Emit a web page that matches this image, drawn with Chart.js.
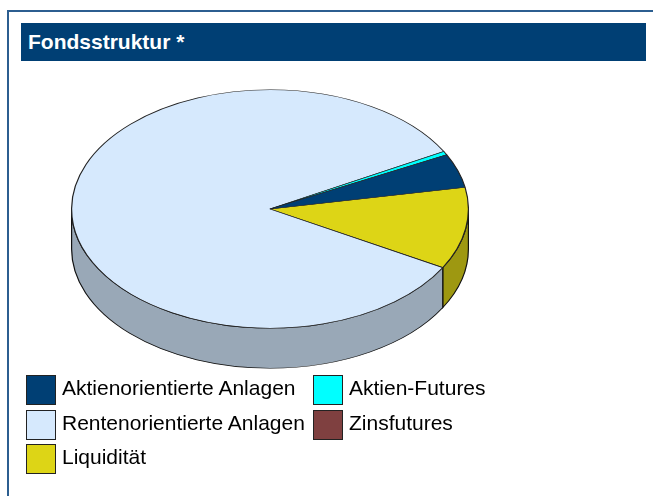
<!DOCTYPE html>
<html>
<head>
<meta charset="utf-8">
<script src="https://cdn.jsdelivr.net/npm/chart.js@4"></script>
<style>
  body { margin: 0; width: 653px; height: 496px; background: #fff; overflow: hidden; position: relative; font-family: "Liberation Sans", Arial, sans-serif; }
  .frame { position: absolute; left: 7px; top: 10px; width: 700px; height: 600px; border-top: 2px solid #2c5e90; border-left: 2px solid #2c5e90; }
  .title { position: absolute; left: 21px; top: 23px; width: 625px; height: 38px; background: #003f74; color: #fff; font-weight: bold; font-size: 21px; line-height: 38px; padding-left: 7px; box-sizing: border-box; }
  #chart-box { position: absolute; left: 71px; top: 10px; width: 398px; height: 398px; }
  #legend { position: absolute; left: 26px; top: 375px; display: grid; grid-template-columns: 287px auto; grid-auto-rows: 30px; row-gap: 4.5px; }
  #legend .item { display: flex; align-items: center; font-size: 21px; color: #000; white-space: nowrap; }
  #legend .item span:last-child { position: relative; top: -2px; }
  #legend .swatch { width: 30px; height: 30px; border: 1.5px solid #222; box-sizing: border-box; margin-right: 6px; }
</style>
</head>
<body>
<div class="frame"></div>
<div class="title">Fondsstruktur *</div>
<div id="chart-box"><canvas id="pie"></canvas></div>
<div id="legend"></div>
<script>
// Fondsstruktur in % (legend order)
const labels = ['Aktienorientierte Anlagen', 'Aktien-Futures', 'Rentenorientierte Anlagen', 'Zinsfutures', 'Liquidität'];
const values = [4.6, 0.5, 83.8, 0, 11.1];
const colors = ['#003f74', '#00ffff', '#d6e9fd', '#7f4040', '#ddd516'];
const sideColors = ['#002a4f', '#00aaaa', '#99a8b7', '#552b2b', '#9e9811'];

const tilt = 119 / 198;   // vertical squash of the pie
const depth = 40;         // height of the wall in px

// the original chart runs counter-clockwise, so hand the library the reversed lists
const rev = arr => arr.slice().reverse();

const pie3d = {
    id: 'pie3d',
    beforeDatasetsDraw(chart) {
        const ctx = chart.ctx;
        const arcs = chart.getDatasetMeta(0).data;
        const cx = arcs[0].x, cy = arcs[0].y;
        ctx.save();
        ctx.translate(cx, cy);
        ctx.scale(1, tilt);
        ctx.translate(-cx, -cy);

        const d = depth / tilt;
        const sides = rev(sideColors);
        arcs.forEach((arc, i) => {
            const r = arc.outerRadius;
            const s = arc.startAngle, e = arc.endAngle;
            for (let k = -1; k <= 2; k++) {
                const a = Math.max(s, 2 * Math.PI * k);
                const b = Math.min(e, 2 * Math.PI * k + Math.PI);
                if (b - a <= 0.0001) continue;
                ctx.beginPath();
                ctx.arc(cx, cy, r, a, b);
                ctx.lineTo(cx + r * Math.cos(b), cy + d + r * Math.sin(b));
                ctx.arc(cx, cy + d, r, b, a, true);
                ctx.closePath();
                ctx.fillStyle = sides[i];
                ctx.fill();
                ctx.lineWidth = 1.2;
                ctx.strokeStyle = '#111';
                ctx.stroke();
            }
        });
    },
    afterDatasetsDraw(chart) {
        chart.ctx.restore();
    }
};

new Chart(document.getElementById('pie'), {
    type: 'pie',
    data: {
        labels: rev(labels),
        datasets: [{
            data: rev(values),
            backgroundColor: rev(colors),
            borderColor: '#222',
            borderWidth: 1.2,
            clip: false
        }]
    },
    options: {
        responsive: true,
        maintainAspectRatio: false,
        animation: false,
        events: [],
        rotation: 79.5,
        layout: { padding: 0 },
        plugins: {
            legend: { display: false },
            tooltip: { enabled: false }
        }
    },
    plugins: [pie3d]
});

// legend, two columns like the original
const legend = document.getElementById('legend');
labels.forEach((name, i) => {
    const item = document.createElement('div');
    item.className = 'item';
    item.innerHTML = `<span class="swatch" style="background:${colors[i]}"></span><span>${name}</span>`;
    legend.appendChild(item);
});
</script>
</body>
</html>
